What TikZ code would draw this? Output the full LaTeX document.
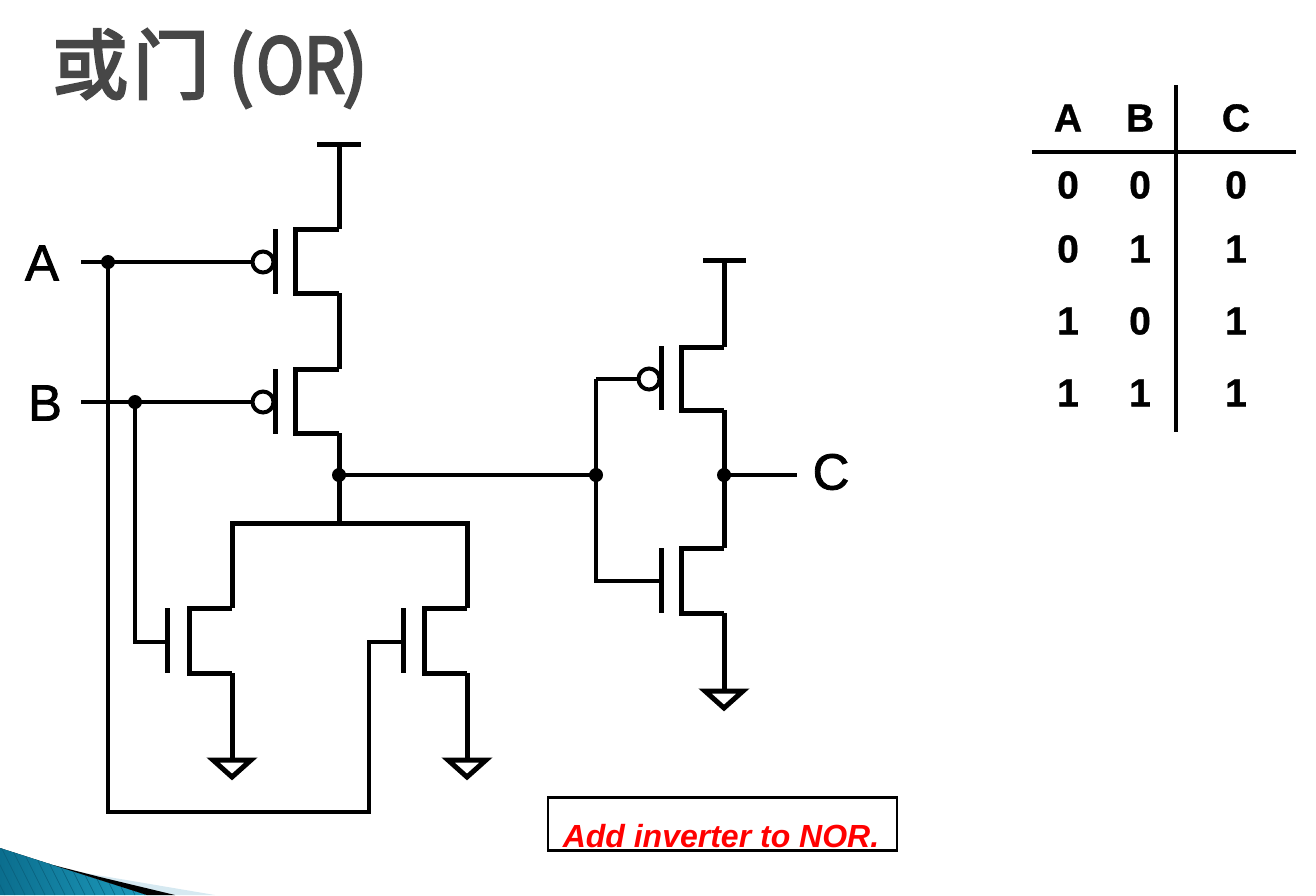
\documentclass[tikz,border=0pt]{standalone}
\usepackage{fontspec}
\setmainfont{Liberation Sans}
\newfontfamily\cjkfont{Noto Sans CJK SC}[FakeBold=3.5]
\newfontfamily\heavysans{Liberation Sans}[FakeBold=1.6]
\newfontfamily\tablesans{Liberation Sans Bold}[FakeBold=1.0]
\definecolor{tealdark}{HTML}{0B6E8E}
\definecolor{teallight}{HTML}{1E9CBE}
\definecolor{tealhatch}{HTML}{0A5E7A}
\definecolor{sliver}{HTML}{D6E9F1}
\begin{document}
\begin{tikzpicture}[x=1pt,y=-1pt,
  wire/.style={draw=black,line width=5pt,line join=miter},
  thinwire/.style={draw=black,line width=4.2pt},
  rule/.style={draw=black,line width=4.4pt},
  dot/.style={circle,fill=black,inner sep=0pt,minimum size=14pt},
  bubble/.style={circle,draw=black,line width=4pt,fill=white,inner sep=0pt,minimum size=21pt},
  siglabel/.style={inner sep=0pt,font=\heavysans\fontsize{51}{51}\selectfont},
  cell/.style={inner sep=0pt,font=\tablesans\fontsize{39}{39}\selectfont},
  ttl/.style={inner sep=0pt,anchor=base west,text=black!72,font=\cjkfont\fontsize{76}{76}\selectfont}]
\useasboundingbox (0,0) rectangle (1316,895);

% corner decoration
\fill[sliver] (85,873) -- (215,895) -- (150,895) -- cycle;
\begin{scope}
\clip (0,848) -- (53,865) -- (147,895) -- (0,895) -- cycle;
\fill[left color=tealdark,right color=teallight] (0,845) rectangle (150,895);
\foreach \i in {-4,...,16}{\draw[tealhatch,line width=.5pt] (\i*10,845) -- (\i*10+25,895);}
\end{scope}
\fill[black] (53,865) -- (100,877) -- (175,895) -- (147,895) -- cycle;

% title
\node[ttl] (t1) at (52,93) {或\kern5pt 门};
\node[ttl] (t2) at (228,93) {(};
\node[ttl,xscale=.85,transform shape] (t3) at (256,93) {OR};
\node[ttl] (t4) at (342,93) {)};

% key points
\coordinate (vl) at (317,144); \coordinate (vr) at (361,144); \coordinate (vm) at (339,144);
\coordinate (v2l) at (703,260); \coordinate (v2r) at (746,260); \coordinate (v2m) at (724,260);
\newcommand{\chan}[5]{%
  \coordinate (#1t) at (#3,#4); \coordinate (#1b) at (#3,#5);
  \coordinate (#1rt) at (#2,#4); \coordinate (#1rb) at (#2,#5);
  \draw[wire] (#1rt) -- (#1t) -- (#1b) -- (#1rb);}
\newcommand{\gatebar}[4]{%
  \coordinate (#1u) at (#2,#3); \coordinate (#1d) at (#2,#4);
  \draw[wire] (#1u) -- (#1d);}
\newcommand{\gnd}[3]{%
  \coordinate (#1) at (#2,#3);
  \coordinate (#1l) at (#2-19,#3); \coordinate (#1r) at (#2+19,#3); \coordinate (#1a) at (#2,#3+17);
  \draw[wire] (#1l) -- (#1r) -- (#1a) -- cycle;}

\chan{pa}{339}{295}{229}{293}
\chan{pb}{339}{295}{369}{433}
\chan{nb}{232}{189}{608}{673}
\chan{na}{467}{424}{608}{673}
\chan{pi}{724}{681}{347}{410}
\chan{ni}{724}{681}{548}{613}
\gatebar{gpa}{275}{229}{294}
\gatebar{gpb}{275}{369}{434}
\gatebar{gnb}{167}{608}{673}
\gatebar{gna}{403}{608}{673}
\gatebar{gpi}{661}{346}{410}
\gatebar{gni}{661}{548}{613}
\gnd{g1}{232}{760}
\gnd{g2}{467}{760}
\gnd{g3}{724}{691}

% supply rails
\draw[wire] (vl) -- (vr);
\draw[wire] (v2l) -- (v2r);
\draw[wire] (vm) -- (part);
\draw[wire] (v2m) -- (pirt);
\draw[wire] (parb) -- (pbrt);

% junctions and labels
\node[dot] (ja) at (108,262) {};
\node[dot] (jb) at (135,402) {};
\node[dot] (jn) at (339,475) {};
\node[dot] (ji) at (596,475) {};
\node[dot] (jc) at (724,475) {};
\node[bubble] (ba) at (263,262) {};
\node[bubble] (bb) at (263,402) {};
\node[bubble] (bi) at (649,379) {};
\node[siglabel] (la) at (42,263) {A};
\node[siglabel] (lb) at (45,403) {B};
\node[siglabel] (lc) at (831,472) {C};
\coordinate (ina) at (81,262);
\coordinate (inb) at (81,402);
\coordinate (outc) at (797,475);
\coordinate (top) at (232,523);
\coordinate (top2) at (467,523);
\coordinate (topm) at (339,523);
\coordinate (acorner) at (369,812);
\coordinate (agate) at (369,642);
\coordinate (agate2) at (403,642);
\coordinate (bgate) at (135,642);
\coordinate (bgate2) at (167,642);
\coordinate (igp) at (596,379);
\coordinate (ign) at (596,581);
\coordinate (ign2) at (661,581);

% inputs
\draw[thinwire] (ina) -- (ba.west);
\draw[thinwire] (inb) -- (bb.west);
\draw[thinwire] (ja.center) |- (acorner) -- (agate) -- (agate2);
\draw[thinwire] (jb.center) -- (bgate) -- (bgate2);
% output nodes
\draw[wire] (pbrb) -- (topm);
\draw[wire] (nbrt) -- (top) -- (top2) -- (nart);
\draw[wire] (nbrb) -- (g1);
\draw[wire] (narb) -- (g2);
\draw[thinwire] (jn.center) -- (ji.center);
\draw[thinwire] (igp) -- (ign) -- (ign2);
\draw[thinwire] (igp) -- (bi.west);
\draw[wire] (pirb) -- (nirt);
\draw[wire] (nirb) -- (g3);
\draw[thinwire] (jc.center) -- (outc);

% truth table
\coordinate (hl) at (1032,152); \coordinate (hr) at (1296,152);
\coordinate (vt) at (1176,85); \coordinate (vb) at (1176,432);
\draw[rule] (hl) -- (hr);
\draw[rule] (vt) -- (vb);
\node[cell] (h1) at (1068,118) {A};
\node[cell] (h2) at (1140,118) {B};
\node[cell] (h3) at (1236,118) {C};
\node[cell] (c11) at (1068,185) {0};
\node[cell] (c12) at (1140,185) {0};
\node[cell] (c13) at (1236,185) {0};
\node[cell] (c21) at (1068,249) {0};
\node[cell] (c22) at (1140,249) {1};
\node[cell] (c23) at (1236,249) {1};
\node[cell] (c31) at (1068,321) {1};
\node[cell] (c32) at (1140,321) {0};
\node[cell] (c33) at (1236,321) {1};
\node[cell] (c41) at (1068,393) {1};
\node[cell] (c42) at (1140,393) {1};
\node[cell] (c43) at (1236,393) {1};

% note
\node[draw=black,line width=2.4pt,minimum width=349pt,minimum height=53pt,inner sep=0pt] (box) at (722.5,824) {};
\node[inner sep=0pt,text=red,font=\fontsize{32}{32}\selectfont\bfseries\itshape] (note) at (721,836) {Add inverter to NOR.};
\end{tikzpicture}
\end{document}
